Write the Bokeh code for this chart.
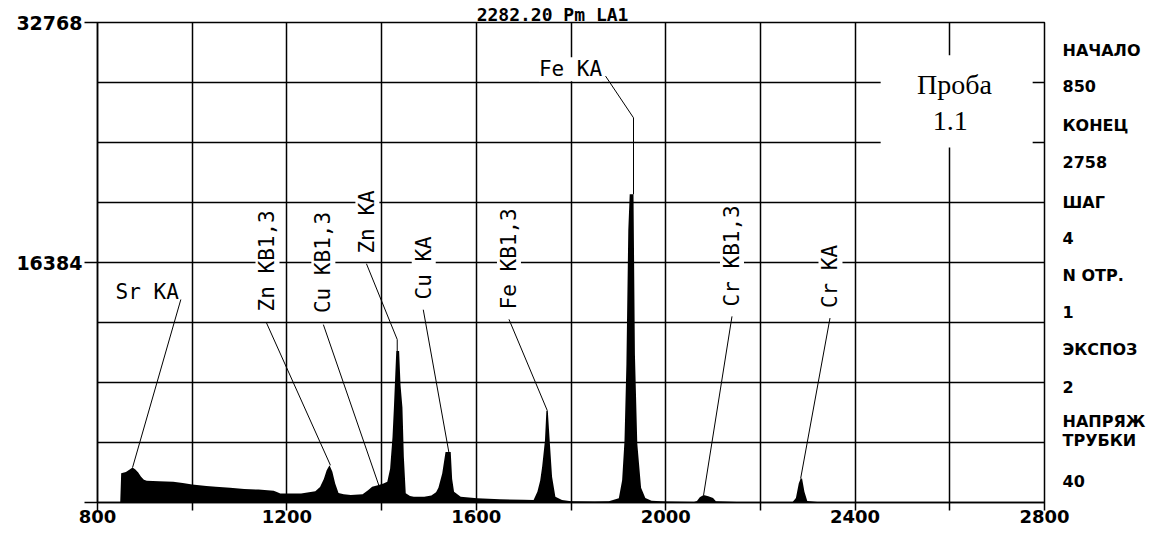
import math
from bokeh.plotting import figure
from bokeh.models import FixedTicker, ColumnDataSource, LabelSet, Label, LinearAxis
from bokeh.core.properties import value
from bokeh.embed import file_html
from bokeh.resources import INLINE

# ---------------- data ----------------
channel = [848, 850, 860, 868, 874, 880, 886, 892, 898, 904, 930, 960, 980, 1000,
           1030, 1050, 1080, 1110, 1140, 1172, 1180, 1186, 1230, 1260, 1270, 1278,
           1284, 1290, 1296, 1302, 1309, 1320, 1335, 1360, 1372, 1380, 1392, 1404,
           1412, 1418, 1423, 1426, 1429, 1431, 1437, 1440, 1444, 1447, 1451, 1460,
           1468, 1490, 1505, 1515, 1520, 1528, 1535, 1546, 1549, 1553, 1567, 1602,
           1650, 1700, 1721, 1729, 1735, 1739, 1745, 1748, 1751, 1755, 1760, 1767,
           1781, 1800, 1850, 1880, 1901, 1908, 1913, 1917, 1921, 1924, 1932, 1935,
           1940, 1948, 1957, 1970, 2000, 2060, 2066, 2072, 2080, 2090, 2100, 2106,
           2150, 2268, 2275, 2281, 2285, 2288, 2293, 2299, 2320, 2758]
counts = [0, 2000, 2090, 2250, 2385, 2250, 2050, 1750, 1550, 1480, 1450, 1410, 1330, 1230,
          1130, 1070, 1000, 930, 880, 800, 700, 620, 620, 760, 1050, 1600,
          2200, 2540, 2100, 1300, 650, 560, 510, 560, 850, 1070, 1186, 1300,
          1410, 2300, 4460, 6490, 8800, 10335, 10335, 8000, 6490, 3100, 640, 450,
          390, 400, 480, 700, 1000, 1980, 3440, 3440, 1600, 730, 390, 285,
          220, 180, 170, 730, 1500, 2430, 4235, 6270, 6270, 4235, 1750, 390,
          170, 90, 70, 90, 285, 1525, 4235, 9430, 18600, 21040, 21040, 10100,
          4030, 1000, 300, 120, 60, 40, 100, 350, 510, 420, 300, 80,
          40, 40, 300, 1300, 1640, 1640, 730, 100, 30, 30]

x_ticks = [800, 1000, 1200, 1400, 1600, 1800, 2000, 2200, 2400, 2600, 2800]
x_tick_labels = {800: "800", 1000: "", 1200: "1200", 1400: "", 1600: "1600", 1800: "",
                 2000: "2000", 2200: "", 2400: "2400", 2600: "", 2800: "2800"}
y_ticks = [0, 16384, 32768]
y_tick_labels = {0: "", 16384: "16384", 32768: "32768"}
y_grid_ticks = [0, 4096, 8192, 12288, 16384, 20480, 24576, 28672, 32768]

peak_names = ["Sr KA", "Zn KB1,3", "Cu KB1,3", "Zn KA", "Cu KA", "Fe KB1,3", "Fe KA", "Cr KB1,3", "Cr KA"]
peak_pos = [874, 1292, 1394, 1433, 1542, 1750, 1932, 2080, 2285]
peak_counts = [2385, 2540, 1186, 10335, 3440, 6270, 21040, 510, 1640]

title_text = "2282.20 Pm LA1"
sample_text = ["Проба", "1.1"]
info_text = ["НАЧАЛО", "850", "КОНЕЦ", "2758", "ШАГ", "4", "N ОТР.", "1",
             "ЭКСПОЗ", "2", "НАПРЯЖ", "ТРУБКИ", "40"]

# ---------------- layout (annotation placement) ----------------
label_x = [905, 1159, 1277, 1370, 1489, 1669, 1799, 2140, 2348]
label_y = [14354, 13046, 12931, 16997, 13859, 13181, 29582, 13385, 13270]
label_horiz = [True, False, False, False, False, False, True, False, False]
lead_start_x = [976, 1157, 1277, 1368, 1488, 1669, 1873, 2140, 2347]
lead_start_y = [13859, 12253, 12144, 16299, 13161, 12504, 29108, 12707, 12592]
lead_knee = {3: (1433, 11128), 6: (1932, 26262)}

title_x = 1761
info_y = [30850, 28380, 25720, 23230, 20470, 18040, 15490, 12960, 10470, 7870, 5540, 4200, 1440]

p = figure(width=1150, height=530, x_range=(800, 2800), y_range=(0, 32768),
           output_backend="svg", toolbar_location=None,
           min_border_left=97, min_border_right=106, min_border_top=19, min_border_bottom=28)
p.background_fill_color = "white"
p.border_fill_color = "white"
p.outline_line_color = "black"
p.outline_line_width = 1.5
p.outline_line_alpha = 1.0

for ax in (p.xaxis, p.yaxis):
    ax.axis_line_color = "black"
    ax.axis_line_width = 1.5
    ax.major_tick_line_color = "black"
    ax.major_tick_line_width = 1.5
    ax.major_tick_in = 0
    ax.minor_tick_line_color = None
    ax.major_label_text_font = "DejaVu Sans"
    ax.major_label_text_font_style = "bold"
    ax.major_label_text_color = "black"

p.xaxis.ticker = FixedTicker(ticks=x_ticks)
p.xaxis.major_label_overrides = x_tick_labels
p.xaxis.major_tick_out = 8
p.xaxis.major_label_standoff = -1
p.xaxis.major_label_text_font_size = "18px"

p.yaxis.ticker = FixedTicker(ticks=y_ticks)
p.yaxis.major_label_overrides = y_tick_labels
p.yaxis.major_tick_out = 13
p.yaxis.major_label_standoff = 2
p.yaxis.major_label_text_font_size = "19px"


def text_axis(ticks, labels, standoff, size, font):
    a = LinearAxis(ticker=FixedTicker(ticks=ticks),
                   major_label_overrides={t: s for t, s in zip(ticks, labels)})
    a.axis_line_color = None
    a.major_tick_line_color = None
    a.minor_tick_line_color = None
    a.major_tick_out = 0
    a.major_tick_in = 0
    a.major_label_standoff = standoff
    a.major_label_text_font = font
    a.major_label_text_font_style = "bold"
    a.major_label_text_font_size = size
    a.major_label_text_color = "black"
    return a


# right-hand information column
p.add_layout(text_axis(info_y, info_text, 18, "16px", "DejaVu Sans"), "right")
# title line above the frame
p.add_layout(text_axis([title_x], [title_text], -2, "18px", "DejaVu Sans Mono"), "above")

p.xgrid.ticker = FixedTicker(ticks=x_ticks)
p.ygrid.ticker = FixedTicker(ticks=y_grid_ticks)
for g in (p.xgrid, p.ygrid):
    g.grid_line_color = "black"
    g.grid_line_width = 1.5
    g.grid_line_alpha = 1.0

# spectrum
p.varea(x=channel, y1=0, y2=counts, fill_color="black")

# white box for sample label
p.quad(left=[2454], right=[2775], bottom=[24228], top=[30532],
       fill_color="white", line_color=None)

# leader lines
xs, ys = [], []
for i in range(len(peak_names)):
    lx = [lead_start_x[i]]
    ly = [lead_start_y[i]]
    if i in lead_knee:
        lx.append(lead_knee[i][0]); ly.append(lead_knee[i][1])
    lx.append(peak_pos[i]); ly.append(peak_counts[i])
    xs.append(lx); ys.append(ly)
p.multi_line(xs=xs, ys=ys, line_color="black", line_width=1)

# peak labels
h_idx = [i for i in range(len(peak_names)) if label_horiz[i]]
v_idx = [i for i in range(len(peak_names)) if not label_horiz[i]]
src_h = ColumnDataSource(dict(x=[label_x[i] for i in h_idx], y=[label_y[i] for i in h_idx],
                              text=[peak_names[i] for i in h_idx]))
src_v = ColumnDataSource(dict(x=[label_x[i] for i in v_idx], y=[label_y[i] for i in v_idx],
                              text=[peak_names[i] for i in v_idx]))
common = dict(text_font=value("DejaVu Sans Mono"), text_font_size=value("21px"),
              text_color="black", background_fill_color="white")
p.add_layout(LabelSet(x="x", y="y", text="text", source=src_h, text_align="center",
                      text_baseline="middle", **common))
p.add_layout(LabelSet(x="x", y="y", text="text", source=src_v, angle=math.pi / 2,
                      text_align="left", text_baseline="middle", **common))

# sample label
p.add_layout(Label(x=2610, y=28518, text=sample_text[0], text_align="center",
                   text_baseline="middle", text_font="Liberation Serif",
                   text_font_size="28px", text_color="black"))
p.add_layout(Label(x=2601, y=26037, text=sample_text[1], text_align="center",
                   text_baseline="middle", text_font="Liberation Serif",
                   text_font_size="28px", text_color="black"))

open("out.html", "w").write(file_html(p, INLINE))
